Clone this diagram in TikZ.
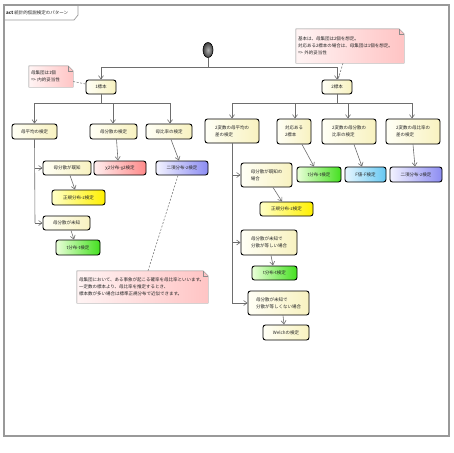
\documentclass[tikz,border=0pt]{standalone}
\usepackage{fontspec}
\newfontfamily\jp{Noto Sans CJK JP}
\usetikzlibrary{arrows.meta,backgrounds,shapes.geometric}
\definecolor{cw}{HTML}{FFFFF6}
\definecolor{cy}{HTML}{F8F2C0}
\definecolor{redL}{HTML}{FFEEEE}
\definecolor{redR}{HTML}{FF8A8A}
\definecolor{bluL}{HTML}{F2F2FF}
\definecolor{bluR}{HTML}{8C8CF2}
\definecolor{yelL}{HTML}{FFFFC8}
\definecolor{yelR}{HTML}{FFF000}
\definecolor{grnL}{HTML}{EAFFD8}
\definecolor{grnR}{HTML}{44E020}
\definecolor{cyaL}{HTML}{E6F6FF}
\definecolor{cyaR}{HTML}{66C8F2}
\definecolor{noteL}{HTML}{FFF4F4}
\definecolor{noteR}{HTML}{FFC4C4}
\definecolor{lin}{HTML}{6E6E6E}
\begin{document}
\begin{tikzpicture}[x=1pt,y=-1pt,
  every node/.style={font=\jp\fontsize{4.5}{7}\selectfont, inner sep=1pt, text=black!85},
  box/.style 2 args={draw=black, line width=0.9pt, rounded corners=2.5pt,
    left color=cw, right color=cy, align=left,
    minimum width=#1 pt, minimum height=#2 pt},
  red/.style={left color=redL, right color=redR},
  blu/.style={left color=bluL, right color=bluR},
  yel/.style={left color=yelL, right color=yelR},
  grn/.style={left color=grnL, right color=grnR},
  cya/.style={left color=cyaL, right color=cyaR},
  notebox/.style 2 args={inner sep=2pt, text width=#1 pt, minimum height=#2 pt, align=left},
  notefill/.style={draw=black!45, line width=0.4pt, left color=noteL, right color=noteR},
  arr/.style={draw=lin, line width=0.6pt, -{Straight Barb[length=3.5pt,width=5pt]}},
  ln/.style={draw=lin, line width=0.6pt},
  dsh/.style={draw=black!50, line width=0.6pt, dashed, dash pattern=on 2pt off 1.5pt},
]
\useasboundingbox (0,0) rectangle (453,453);
\begin{pgfonlayer}{background}
\fill[white] (0,0) rectangle (453,453);
\end{pgfonlayer}
% frame
\draw[draw=black!40, line width=1.2pt] (4,5) rectangle (449,436);
\draw[draw=black!40, line width=0.7pt] (4,20) -- (74,20) -- (78,15) -- (78,5);
\node[anchor=west, inner sep=0pt] (title) at (6,12.5) {\textbf{act} 統計的仮説検定のパターン};

% initial node
\node[ellipse, draw=black, line width=0.6pt, minimum width=10pt, minimum height=15pt, inner sep=0pt,
  inner color=black!30, outer color=black!75] (init) at (208,50) {};

% top level
\node[box={30}{14}] (n1) at (101,87) {1標本};
\node[box={30}{14}] (n2) at (337,87) {2標本};

% notes
\node[notebox={40}{21}] (note1) at (51,76.5) {母集団は1個\\=> 内的妥当性};
\node[notebox={104}{34}] (note2) at (350,46) {基本は、母集団は2個を想定。\\対応ある2標本の場合は、母集団は1個を想定。\\=> 外的妥当性};
\node[notebox={127}{32}] (note3) at (142.5,287) {母集団において、ある事象が起こる確率を母比率といいます。\\一定数の標本より、母比率を推定するとき、\\標本数が多い場合は標準正規分布で近似できます。};
\begin{pgfonlayer}{background}
\foreach \n in {note1,note2,note3}{
  \draw[notefill] (\n.north west) -- ([xshift=-5pt]\n.north east) -- ([yshift=-5pt]\n.north east)
     -- (\n.south east) -- (\n.south west) -- cycle;
  \draw[draw=black!45, line width=0.4pt] ([xshift=-5pt]\n.north east) -- ([xshift=-5pt,yshift=-5pt]\n.north east) -- ([yshift=-5pt]\n.north east);
}
\end{pgfonlayer}

% left branch
\node[box={45}{15}] (a1) at (34.5,131.5) {母平均の検定};
\node[box={47}{15}] (a2) at (113.5,131.5) {母分散の検定};
\node[box={46}{15}] (a3) at (169,131.5) {母比率の検定};
\node[box={48}{14}] (b1) at (67,168) {母分散が既知};
\node[box={52}{14},red] (b2) at (120,168) {χ2分布-χ2検定};
\node[box={52}{14},blu] (b3) at (182,168) {二項分布-z検定};
\node[box={53}{15},yel] (b4) at (78.5,197.5) {正規分布-z検定};
\node[box={47}{14}] (b5) at (66.5,223) {母分散が未知};
\node[box={44}{15},grn] (b6) at (78,247.5) {t分布-t検定};

% right branch
\node[box={54}{24}] (c1) at (232,131) {2変数の母平均の\\差の検定};
\node[box={34}{25}] (c2) at (294,131.5) {対応ある\\2標本};
\node[box={54}{25}] (c3) at (349,131.5) {2変数の母分散の\\比率の検定};
\node[box={54}{25}] (c4) at (413,131.5) {2変数の母比率の\\差の検定};
\node[box={51}{24}] (d1) at (266.5,175) {母分散が既知の\\場合};
\node[box={44}{15},grn] (d2) at (319,174.5) {t分布-t検定};
\node[box={41}{15},cya] (d3) at (365.5,174.5) {F値-F検定};
\node[box={52}{15},blu] (d4) at (416,174.5) {二項分布-z検定};
\node[box={53}{14},yel] (d5) at (286.5,209) {正規分布-z検定};
\node[box={56}{25}] (d6) at (269,242.5) {母分散が未知で\\分散が等しい場合};
\node[box={45}{14},grn] (d7) at (274.5,273) {t分布-t検定};
\node[box={61}{24}] (d8) at (278.5,303) {母分散が未知で\\分散が等しくない場合};
\node[box={46}{15}] (d9) at (286,332.5) {Welchの検定};

% junction coordinates
\coordinate (j0) at (208,67);
\coordinate (j1) at (101,103);
\coordinate (j2) at (337,103);
\coordinate (jl1) at (35,168);
\coordinate (jl2) at (35,223);
\coordinate (jr1) at (232,175);
\coordinate (jr2) at (232,242.5);
\coordinate (jr3) at (232,303);

% connectors top
\draw[ln] (init) -- (j0);
\draw[arr] (j0) -| (n1.north);
\draw[arr] (j0) -| (n2.north);
\draw[ln] (n1.south) -- (j1);
\draw[arr] (j1) -| (a1.north);
\draw[arr] (j1) -| ([xshift=-0.5pt]a2.north);
\draw[arr] (j1) -| ([xshift=1pt]a3.north);
\draw[ln] (n2.south) -- (j2);
\draw[arr] (j2) -| (c1.north);
\draw[arr] (j2) -| ([xshift=1pt]c2.north);
\draw[arr] (j2) -| ([xshift=-1pt]c3.north);
\draw[arr] (j2) -| ([xshift=-1pt]c4.north);

% left vertical
\draw[ln] (a1.south) -- (jl2);
\draw[arr] (jl1) -- (b1.west);
\draw[arr] (jl2) -- (b5.west);
\draw[arr] ([xshift=3pt]a2.south) -- ([xshift=-2pt]b2.north);
\draw[arr] ([xshift=2pt]a3.south) -- ([xshift=-3pt]b3.north);
\draw[arr] ([xshift=3pt]b1.south) -- ([xshift=-3.5pt]b4.north);
\draw[arr] ([xshift=4.5pt]b5.south) -- ([xshift=-4pt]b6.north);

% right vertical
\draw[ln] (c1.south) -- (jr3);
\draw[arr] (jr1) -- (d1.west);
\draw[arr] (jr2) -- (d6.west);
\draw[arr] (jr3) -- (d8.west);
\draw[arr] ([xshift=8pt]c2.south) -- ([xshift=-5pt]d2.north);
\draw[arr] ([xshift=5pt]c3.south) -- ([xshift=-3.5pt]d3.north);
\draw[arr] (c4.south) -- ([xshift=-1pt]d4.north);
\draw[arr] ([xshift=6.5pt]d1.south) -- ([xshift=-4.5pt]d5.north);
\draw[arr] ([xshift=2pt]d6.south) -- ([xshift=-1.5pt]d7.north);
\draw[arr] ([xshift=4.5pt]d8.south) -- ([xshift=-2pt]d9.north);

% note links
\draw[dsh] ([yshift=-5pt]note1.east) -- ([yshift=3pt]n1.west);
\draw[dsh] ([xshift=-7pt]note2.south) -- ([xshift=1pt]n2.north);
\draw[dsh] ([xshift=5.5pt]note3.north) -- ([xshift=-4pt]b3.south);
\end{tikzpicture}
\end{document}
